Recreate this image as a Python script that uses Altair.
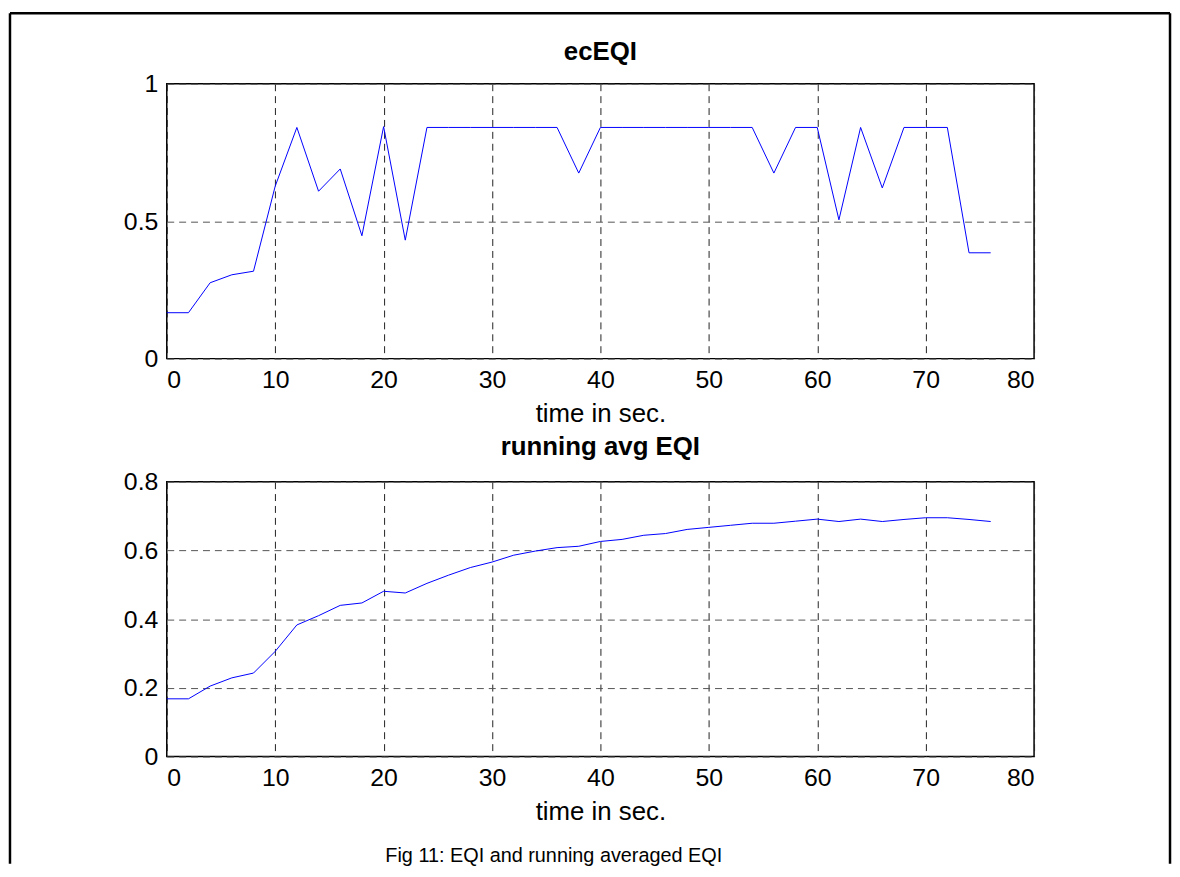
import altair as alt
import pandas as pd

# time axis (seconds)
time_s = [0, 2, 4, 6, 8, 10, 12, 14, 16, 18, 20, 22, 24, 26, 28, 30, 32, 34, 36, 38,
          40, 42, 44, 46, 48, 50, 52, 54, 56, 58, 60, 62, 64, 66, 68, 70, 72, 74, 76]

# ecEQI values (top panel)
ec_eqi = [0.167, 0.167, 0.276, 0.305, 0.318, 0.627, 0.841, 0.609, 0.690, 0.447,
          0.844, 0.431, 0.841, 0.841, 0.841, 0.841, 0.841, 0.841, 0.841, 0.675,
          0.841, 0.841, 0.841, 0.841, 0.841, 0.841, 0.841, 0.841, 0.675, 0.841,
          0.841, 0.505, 0.841, 0.621, 0.841, 0.841, 0.841, 0.385, 0.385]

# running average EQI values (bottom panel)
avg_eqi = [0.168, 0.168, 0.205, 0.229, 0.243, 0.306, 0.383, 0.410, 0.440, 0.447,
           0.481, 0.476, 0.504, 0.528, 0.550, 0.566, 0.586, 0.598, 0.608, 0.612,
           0.626, 0.632, 0.644, 0.649, 0.661, 0.667, 0.673, 0.679, 0.679, 0.685,
           0.691, 0.684, 0.691, 0.684, 0.690, 0.695, 0.695, 0.690, 0.684]

x_ticks = [0, 10, 20, 30, 40, 50, 60, 70, 80]
y_ticks_top = [0, 0.5, 1]
y_ticks_bottom = [0, 0.2, 0.4, 0.6, 0.8]

top_title = "ecEQI"
bottom_title = "running avg EQI"
x_title = "time in sec."
caption = "Fig 11: EQI and running averaged EQI"

FONT = "Liberation Sans"
W, H = 874, 277

df_top = pd.DataFrame({"t": time_s, "v": ec_eqi})
df_bot = pd.DataFrame({"t": time_s, "v": avg_eqi})
df_cap = pd.DataFrame({"caption": [caption]})
df_t1 = pd.DataFrame({"title": [top_title]})
df_t2 = pd.DataFrame({"title": [bottom_title]})

def xenc():
    return alt.X("t:Q", scale=alt.Scale(domain=[0, 80], nice=False),
                 axis=alt.Axis(values=x_ticks, title=x_title, format="d"))

top_line = alt.Chart(df_top).mark_line(color="#0000ff", strokeWidth=1).encode(
    x=xenc(),
    y=alt.Y("v:Q", scale=alt.Scale(domain=[0, 1], nice=False),
            axis=alt.Axis(values=y_ticks_top, title=None, format="~g")),
)

top_ttl = alt.Chart(df_t1).mark_text(font=FONT, fontSize=26, fontWeight="bold",
                                     color="black", align="center",
                                     baseline="middle").encode(
    x=alt.value(W / 2), y=alt.value(-32), text="title:N")

# figure frame (decoration)
frame_top = alt.Chart(df_cap).mark_rule(color="black", strokeWidth=2.5).encode(
    x=alt.value(-158), x2=alt.value(1011), y=alt.value(-71))
frame_left = alt.Chart(df_cap).mark_rule(color="black", strokeWidth=2.5).encode(
    x=alt.value(-158), y=alt.value(-71), y2=alt.value(786))
frame_right = alt.Chart(df_cap).mark_rule(color="black", strokeWidth=2.5).encode(
    x=alt.value(1011), y=alt.value(-71), y2=alt.value(786))

top = alt.layer(top_line, top_ttl, frame_top, frame_left, frame_right).properties(
    width=W, height=H)

bot_line = alt.Chart(df_bot).mark_line(color="#0000ff", strokeWidth=1).encode(
    x=xenc(),
    y=alt.Y("v:Q", scale=alt.Scale(domain=[0, 0.8], nice=False),
            axis=alt.Axis(values=y_ticks_bottom, title=None, format="~g")),
)

bot_ttl = alt.Chart(df_t2).mark_text(font=FONT, fontSize=26, fontWeight="bold",
                                     color="black", align="center",
                                     baseline="middle").encode(
    x=alt.value(W / 2), y=alt.value(-35), text="title:N")

cap = alt.Chart(df_cap).mark_text(font=FONT, fontSize=20, color="black",
                                  align="center", baseline="middle").encode(
    x=alt.value(390), y=alt.value(377), text="caption:N")

bottom = alt.layer(bot_line, bot_ttl, cap).properties(width=W, height=H)

chart = alt.vconcat(top, bottom, spacing=124, bounds="flush").properties(
    padding=0, background="white"
).configure_view(
    stroke="black", strokeWidth=1.5
).configure_axis(
    labelFont=FONT, labelFontSize=25, labelColor="black",
    titleFont=FONT, titleFontSize=26, titleFontWeight="normal", titleColor="black",
    domain=False, ticks=False, tickSize=0, grid=True, gridDash=[7, 5],
    gridWidth=1, labelPadding=9, titlePadding=8,
).configure_axisX(
    gridColor="#222222",
).configure_axisY(
    gridColor="#555555", labelPadding=9,
)

chart.save("out.html", embed_options={"renderer": "svg", "actions": False})
